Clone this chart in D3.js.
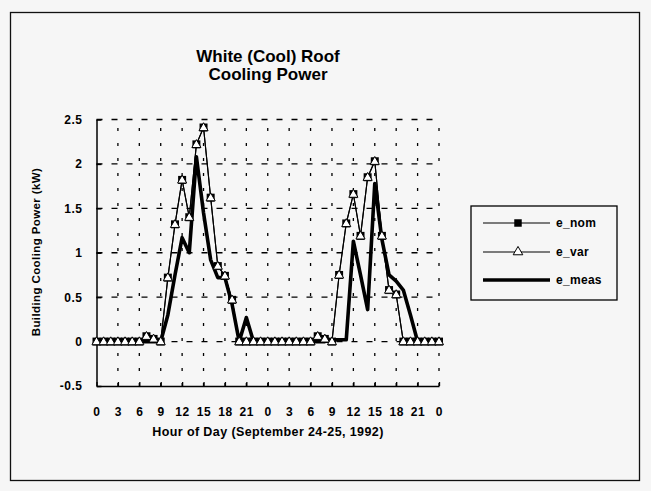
<!DOCTYPE html>
<html>
<head>
<meta charset="utf-8">
<script src="https://cdn.jsdelivr.net/npm/d3@7"></script>
<style>
  html, body { margin: 0; padding: 0; background: #f6f6f6; }
  svg { display: block; }
  text { font-family: "Liberation Sans", Arial, sans-serif; font-weight: bold; fill: #000; }
</style>
</head>
<body>
<svg id="chart" width="651" height="491"></svg>
<script>
// ---- data ----
const hours = d3.range(0, 49);
const e_var = [0,0,0,0,0,0,0,0.06,0.03,0,0.72,1.32,1.82,1.40,2.22,2.41,1.62,0.85,0.74,0.47,0,0,0,0,
               0,0,0,0,0,0,0,0.06,0.03,0,0.75,1.33,1.66,1.19,1.85,2.03,1.19,0.58,0.53,0,0,0,0,0,0];
const e_nom = [0,0,0,0,0,0,0,0.06,0.03,0,0.72,1.32,1.82,1.40,2.22,2.41,1.62,0.85,0.74,0.47,0,0,0,0,
               0,0,0,0,0,0,0,0.06,0.03,0,0.75,1.33,1.66,1.19,1.85,2.03,1.19,0.58,0.53,0,0,0,0,0,0];
const e_meas = [0,0,0,0,0,0,0,0,0,0,0.30,0.75,1.17,1.00,2.08,1.45,0.92,0.72,0.72,0.42,0,0.27,0,0,
                0,0,0,0,0,0,0,0,0,0.02,0.02,0.02,1.13,0.75,0.36,1.78,1.15,0.75,0.68,0.58,0.30,0,0,0,0];
const xTickValues = [0,3,6,9,12,15,18,21,24,27,30,33,36,39,42,45,48];
const xTickLabels = ["0","3","6","9","12","15","18","21","0","3","6","9","12","15","18","21","0"];
const yTickValues = [-0.5,0,0.5,1,1.5,2,2.5];
const yTickLabels = ["-0.5","0","0.5","1","1.5","2","2.5"];
const seriesNames = ["e_nom","e_var","e_meas"];
const titleLines = ["White (Cool) Roof","Cooling Power"];
const xTitle = "Hour of Day (September 24-25, 1992)";
const yTitle = "Building Cooling Power (kW)";

// ---- layout ----
const svg = d3.select("#chart");
const x = d3.scaleLinear().domain([0,48]).range([96.5,439]);
const y = d3.scaleLinear().domain([-0.5,2.5]).range([386,119.5]);

// outer frame
svg.append("rect").attr("x",10.5).attr("y",12.5).attr("width",629).attr("height",468)
  .attr("fill","none").attr("stroke","#111").attr("stroke-width",1.3);

// title
svg.append("g").selectAll("text").data(titleLines).enter().append("text")
  .attr("x",268).attr("y",(d,i)=>62+i*18).attr("text-anchor","middle")
  .style("font-size","17px").text(d=>d);

// grid
const grid = svg.append("g");
grid.selectAll("line.h").data(yTickValues.filter(v=>v>-0.5)).enter().append("line")
  .attr("x1",x(0)).attr("x2",x(48)).attr("y1",d=>y(d)).attr("y2",d=>y(d))
  .attr("stroke","#000").attr("stroke-width",1.3).attr("stroke-dasharray","6,9");
grid.selectAll("line.v").data(xTickValues.filter(v=>v>0)).enter().append("line")
  .attr("x1",d=>x(d)).attr("x2",d=>x(d)).attr("y1",y(-0.5)).attr("y2",y(2.5))
  .attr("stroke","#000").attr("stroke-width",1.3).attr("stroke-dasharray","3,12");

// axes
const yAxis = d3.axisLeft(y).tickValues(yTickValues).tickFormat((d,i)=>yTickLabels[i])
  .tickSizeInner(-5).tickSizeOuter(0).tickPadding(14);
const gy = svg.append("g").attr("transform",`translate(${x(0)},0)`).call(yAxis);
gy.select(".domain").attr("stroke","#000").attr("stroke-width",1.5);
gy.selectAll(".tick line").attr("stroke","#000").attr("stroke-width",1.5);
gy.selectAll("text").style("font-size","12px").style("letter-spacing","0.5px").attr("font-family",null);

const xAxis = d3.axisBottom(x).tickValues(xTickValues).tickFormat((d,i)=>xTickLabels[i])
  .tickSizeInner(-4).tickSizeOuter(0).tickPadding(21);
const gx = svg.append("g").attr("transform",`translate(0,${y(-0.5)})`).call(xAxis);
gx.select(".domain").attr("stroke","#000").attr("stroke-width",1.5);
gx.selectAll(".tick line").attr("stroke","#000").attr("stroke-width",1.3);
gx.selectAll("text").style("font-size","12px").style("letter-spacing","0.6px").attr("font-family",null);

// axis titles
svg.append("text").attr("x",268).attr("y",436).attr("text-anchor","middle")
  .style("font-size","12.5px").style("letter-spacing","0.4px").text(xTitle);
svg.append("text").attr("transform","translate(40,252) rotate(-90)").attr("text-anchor","middle")
  .style("font-size","11.5px").style("letter-spacing","0.4px").text(yTitle);

// lines
const line = d3.line().x((d,i)=>x(hours[i])).y(d=>y(d));
svg.append("path").datum(e_nom).attr("d",line).attr("fill","none").attr("stroke","#000").attr("stroke-width",1.1);
svg.append("path").datum(e_var).attr("d",line).attr("fill","none").attr("stroke","#000").attr("stroke-width",1.1);
svg.append("path").datum(e_meas).attr("d",line).attr("fill","none").attr("stroke","#000")
  .attr("stroke-width",3.6).attr("stroke-linejoin","round");

const sq = d3.symbol().type(d3.symbolSquare).size(64);
const tri = d3.symbol().type(d3.symbolTriangle).size(36);
svg.append("g").selectAll("path").data(e_nom).enter().append("path")
  .attr("d",sq).attr("transform",(d,i)=>`translate(${x(hours[i])},${y(d)})`).attr("fill","#000");
svg.append("g").selectAll("path").data(e_var).enter().append("path")
  .attr("d",tri).attr("transform",(d,i)=>`translate(${x(hours[i])},${y(d)+0.5})`)
  .attr("fill","#fff").attr("stroke","#000").attr("stroke-width",1);

// legend
const lg = svg.append("g");
lg.append("rect").attr("x",471).attr("y",206).attr("width",146).attr("height",94)
  .attr("fill","none").attr("stroke","#000").attr("stroke-width",1.3);
const ly = [223,252,280];
seriesNames.forEach((name,i)=>{
  lg.append("line").attr("x1",483).attr("x2",550).attr("y1",ly[i]).attr("y2",ly[i])
    .attr("stroke","#000").attr("stroke-width", i===2 ? 3.6 : 1.1);
  if (i===0) lg.append("path").attr("d",d3.symbol().type(d3.symbolSquare).size(56))
    .attr("transform",`translate(518,${ly[i]})`).attr("fill","#000");
  if (i===1) lg.append("path").attr("d",d3.symbol().type(d3.symbolTriangle).size(40))
    .attr("transform",`translate(518,${ly[i]})`).attr("fill","#fff").attr("stroke","#000").attr("stroke-width",1);
  lg.append("text").attr("x",556).attr("y",ly[i]+4).style("font-size","12px")
    .style("letter-spacing","0.3px").text(name);
});
</script>
</body>
</html>
